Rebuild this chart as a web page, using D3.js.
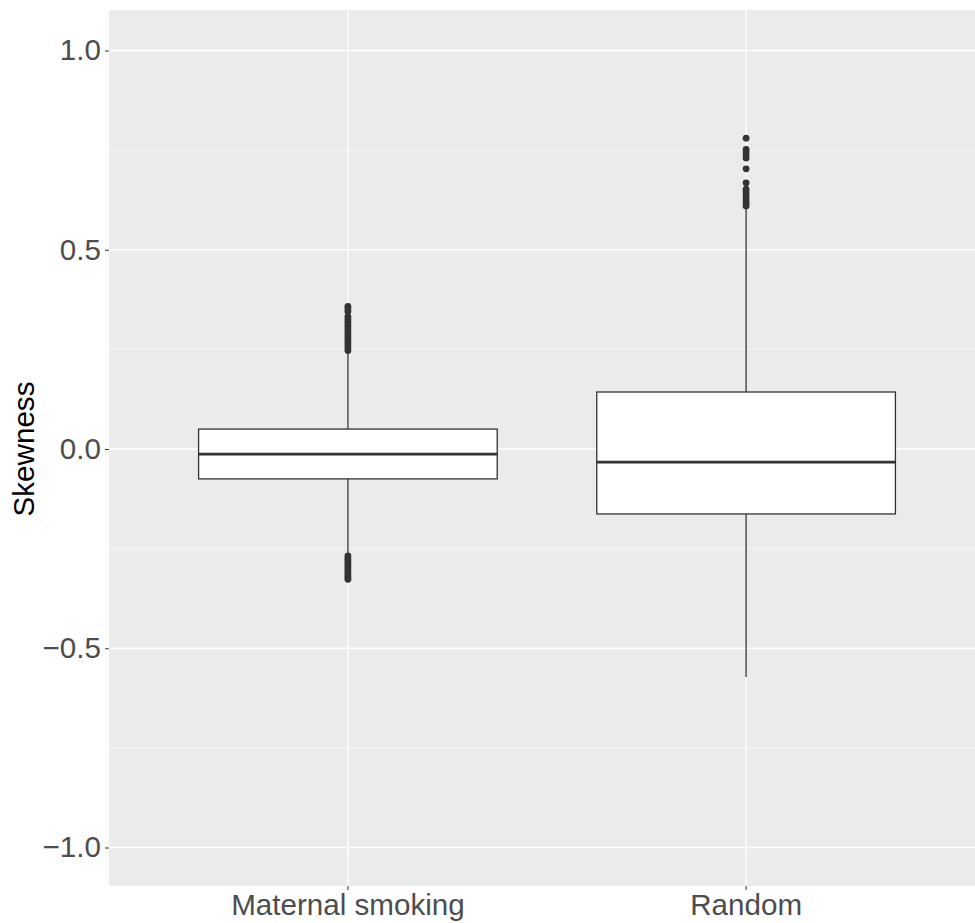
<!DOCTYPE html>
<html lang="en">
<head>
  <meta charset="UTF-8">
  <title>Skewness boxplot</title>
  <style>
    body { margin: 0; background: #fff; }
    text { font-family: "Liberation Sans", Arial, Helvetica, sans-serif; }
  </style>
</head>
<body>
  <script src="https://d3js.org/d3.v7.min.js"></script>
  <div id="chart"></div>
  <script>
    // groups on the x axis
    let groups = ["Maternal smoking", "Random"];

    // box statistics
    let whiskerLow = [-0.262, -0.572];
    let q1 = [-0.075, -0.163];
    let median = [-0.013, -0.033];
    let q3 = [0.050, 0.143];
    let whiskerHigh = [0.240, 0.605];

    // outlying points per group
    let outliersMaternal = [0.358, 0.352, 0.345, 0.332, 0.325, 0.318, 0.310, 0.303, 0.296, 0.289,
      0.282, 0.275, 0.268, 0.261, 0.254, 0.247,
      -0.268, -0.274, -0.280, -0.286, -0.292, -0.298, -0.304, -0.310, -0.316, -0.322, -0.327];
    let outliersRandom = [0.780, 0.752, 0.745, 0.738, 0.730, 0.703, 0.668, 0.652, 0.645, 0.638,
      0.630, 0.623, 0.616, 0.610];

    let yTicks = [-1.0, -0.5, 0.0, 0.5, 1.0];
    let yMinor = [-0.75, -0.25, 0.25, 0.75];

    let width = 975, height = 923;
    let panel = { left: 109, top: 10, right: 985, bottom: 886 };
    let fontSize = "29.6px";

    let svg = d3.select("#chart")
      .append("svg")
        .attr("width", width)
        .attr("height", height);

    let x = d3.scaleBand()
      .domain(groups)
      .range([panel.left, panel.right])
      .paddingInner(0)
      .paddingOuter(0.1);

    let y = d3.scaleLinear()
      .domain([-1.0966, 1.1016])
      .range([panel.bottom, panel.top]);

    // panel background
    svg.append("rect")
      .attr("x", panel.left)
      .attr("y", panel.top)
      .attr("width", panel.right - panel.left)
      .attr("height", panel.bottom - panel.top)
      .attr("fill", "#ebebeb");

    // minor grid
    svg.selectAll(".minor")
      .data(yMinor)
      .enter().append("line")
        .attr("x1", panel.left).attr("x2", panel.right)
        .attr("y1", d => y(d)).attr("y2", d => y(d))
        .attr("stroke", "#fff").attr("stroke-width", 0.6);

    // major grid
    svg.selectAll(".major")
      .data(yTicks)
      .enter().append("line")
        .attr("x1", panel.left).attr("x2", panel.right)
        .attr("y1", d => y(d)).attr("y2", d => y(d))
        .attr("stroke", "#fff").attr("stroke-width", 1.3);

    svg.selectAll(".vmajor")
      .data(groups)
      .enter().append("line")
        .attr("x1", d => x(d) + x.bandwidth() / 2).attr("x2", d => x(d) + x.bandwidth() / 2)
        .attr("y1", panel.top).attr("y2", panel.bottom)
        .attr("stroke", "#fff").attr("stroke-width", 1.3);

    // y axis
    let yAxis = svg.append("g")
      .attr("transform", "translate(" + panel.left + ",0)")
      .call(d3.axisLeft(y).tickValues(yTicks).tickSize(4).tickPadding(4)
        .tickFormat(d => d3.format(".1f")(d).replace("-", "\u2212")));
    yAxis.select(".domain").remove();
    yAxis.selectAll("line").attr("stroke", "#333");
    yAxis.selectAll("text").attr("fill", "#4d4d4d").style("font-size", fontSize);

    // x axis
    let xAxis = svg.append("g")
      .attr("transform", "translate(0," + panel.bottom + ")")
      .call(d3.axisBottom(x).tickSize(4).tickPadding(4));
    xAxis.select(".domain").remove();
    xAxis.selectAll("line").attr("stroke", "#333");
    xAxis.selectAll("text").attr("fill", "#4d4d4d").style("font-size", fontSize);

    // y title
    svg.append("text")
      .attr("transform", "translate(34," + y(0) + ") rotate(-90)")
      .attr("text-anchor", "middle")
      .style("font-size", fontSize)
      .attr("fill", "#000")
      .text("Skewness");

    // boxes
    let boxW = x.bandwidth() * 0.75;
    groups.forEach((g, i) => {
      let cx = x(g) + x.bandwidth() / 2;
      let box = svg.append("g");

      box.append("line")
        .attr("x1", cx).attr("x2", cx)
        .attr("y1", y(q3[i])).attr("y2", y(whiskerHigh[i]))
        .attr("stroke", "#333").attr("stroke-width", 1.3);
      box.append("line")
        .attr("x1", cx).attr("x2", cx)
        .attr("y1", y(q1[i])).attr("y2", y(whiskerLow[i]))
        .attr("stroke", "#333").attr("stroke-width", 1.3);

      box.append("rect")
        .attr("x", cx - boxW / 2)
        .attr("y", y(q3[i]))
        .attr("width", boxW)
        .attr("height", y(q1[i]) - y(q3[i]))
        .attr("fill", "#fff")
        .attr("stroke", "#333")
        .attr("stroke-width", 1.3);

      box.append("line")
        .attr("x1", cx - boxW / 2).attr("x2", cx + boxW / 2)
        .attr("y1", y(median[i])).attr("y2", y(median[i]))
        .attr("stroke", "#333").attr("stroke-width", 2.8);

      let pts = i === 0 ? outliersMaternal : outliersRandom;
      box.selectAll("circle")
        .data(pts)
        .enter().append("circle")
          .attr("cx", cx)
          .attr("cy", d => y(d))
          .attr("r", 3.4)
          .attr("fill", "#333");
    });
  </script>
</body>
</html>
